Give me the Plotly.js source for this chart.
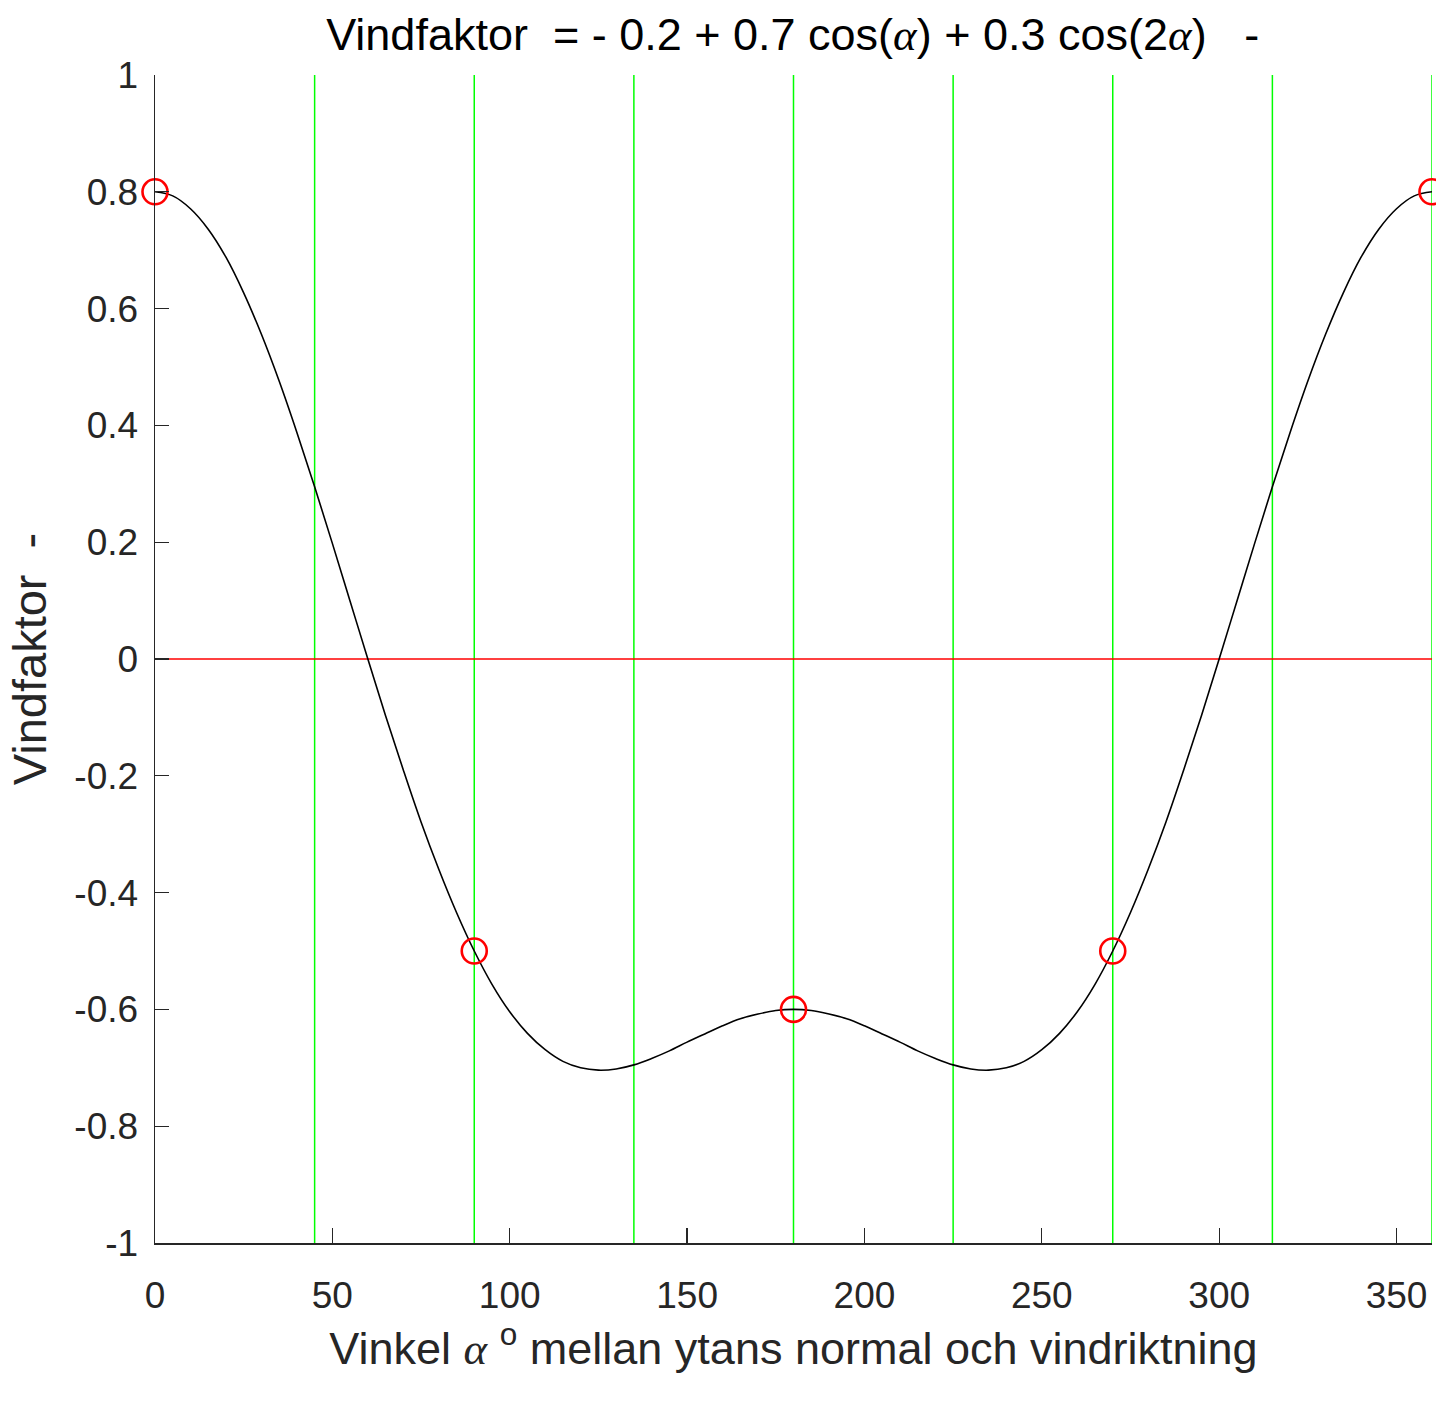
<!DOCTYPE html>
<html>
<head>
<meta charset="utf-8">
<script src="https://cdn.plot.ly/plotly-3.0.1.min.js"></script>
<style>html,body{margin:0;padding:0;background:#fff;}#chart{width:1436px;height:1408px;}</style>
</head>
<body>
<div id="chart"></div>
<script>
// Curve (angle in degrees, wind factor)
const angles = [0,5,10,15,20,25,30,35,40,45,50,55,60,65,70,75,80,85,90,95,100,105,110,115,120,125,130,135,140,145,150,155,160,165,170,175,180,
                185,190,195,200,205,210,215,220,225,230,235,240,245,250,255,260,265,270,275,280,285,290,295,300,305,310,315,320,325,330,335,340,345,350,355,360];
const factor = [0.800,0.793,0.771,0.736,0.688,0.627,0.556,0.476,0.388,0.295,0.198,0.099,0.000,-0.097,-0.190,-0.279,-0.360,-0.434,-0.500,
                -0.557,-0.604,-0.641,-0.669,-0.689,-0.700,-0.704,-0.702,-0.695,-0.684,-0.671,-0.656,-0.642,-0.628,-0.616,-0.608,-0.602,-0.600,
                -0.602,-0.608,-0.616,-0.628,-0.642,-0.656,-0.671,-0.684,-0.695,-0.702,-0.704,-0.700,-0.689,-0.669,-0.641,-0.604,-0.557,
                -0.500,-0.434,-0.360,-0.279,-0.190,-0.097,0.000,0.099,0.198,0.295,0.388,0.476,0.556,0.627,0.688,0.736,0.771,0.793,0.800];
// Marked points
const markAngles = [0,90,180,270,360];
const markValues = [0.8,-0.5,-0.6,-0.5,0.8];
// Green reference lines
const gridAngles = [45,90,135,180,225,270,315,360];
// Axis ticks
const xTicks = [0,50,100,150,200,250,300,350];
const yTicks = [-1,-0.8,-0.6,-0.4,-0.2,0,0.2,0.4,0.6,0.8,1];
const yTickText = ['-1','-0.8','-0.6','-0.4','-0.2','0','0.2','0.4','0.6','0.8','1'];

const alpha = '<span style="font-family:\'Liberation Serif\',serif;font-style:italic">α</span>';
const FONT = "'Liberation Sans', Arial, sans-serif";
const AX = '#262626';

const traces = [];
gridAngles.forEach(a => {
  traces.push({x:[a,a], y:[-1,1], mode:'lines', line:{color:'#00ff00', width:1.5}, hoverinfo:'skip', showlegend:false});
});
traces.push({x:[0,360], y:[0,0], mode:'lines', line:{color:'#ff0000', width:1.5}, showlegend:false});
traces.push({x:angles, y:factor, mode:'lines', line:{color:'#000000', width:1.6, shape:'spline', smoothing:1}, showlegend:false});
traces.push({x:markAngles, y:markValues, mode:'markers', cliponaxis:false,
  marker:{symbol:'circle-open', size:25, color:'#ff0000', line:{color:'#ff0000', width:2.6}}, showlegend:false});

const layout = {
  width:1436, height:1408,
  margin:{l:155, r:4, t:75, b:165},
  paper_bgcolor:'#ffffff', plot_bgcolor:'#ffffff',
  font:{family:FONT, color:AX, size:37},
  title:{text:'Vindfaktor  = - 0.2 + 0.7 cos('+alpha+') + 0.3 cos(2'+alpha+')   -',
    font:{family:FONT, size:45, color:'#000000'}, x:0.552, xanchor:'center', y:0.976, yanchor:'middle', xref:'container', yref:'container'},
  xaxis:{range:[0,360], tickvals:xTicks, ticktext:xTicks.map(String), ticks:'inside', ticklen:15, tickwidth:1.3, tickcolor:AX,
    showline:true, linecolor:AX, linewidth:1.5, showgrid:false, zeroline:false, mirror:false,
    tickfont:{family:FONT, size:37, color:AX}, ticklabelstandoff:19,
    title:{text:'Vinkel '+alpha+' <sup>o</sup> mellan ytans normal och vindriktning', font:{family:FONT, size:45, color:AX}, standoff:12}},
  yaxis:{range:[-1,1], tickvals:yTicks, ticktext:yTickText, ticks:'inside', ticklen:14, tickwidth:1.3, tickcolor:AX,
    showline:true, linecolor:AX, linewidth:1.5, showgrid:false, zeroline:false, mirror:false,
    tickfont:{family:FONT, size:37, color:AX}, ticklabelstandoff:8,
    title:{text:'Vindfaktor  -', font:{family:FONT, size:47, color:AX}, standoff:13}}
};
Plotly.newPlot('chart', traces, layout, {staticPlot:true});
</script>
</body>
</html>
